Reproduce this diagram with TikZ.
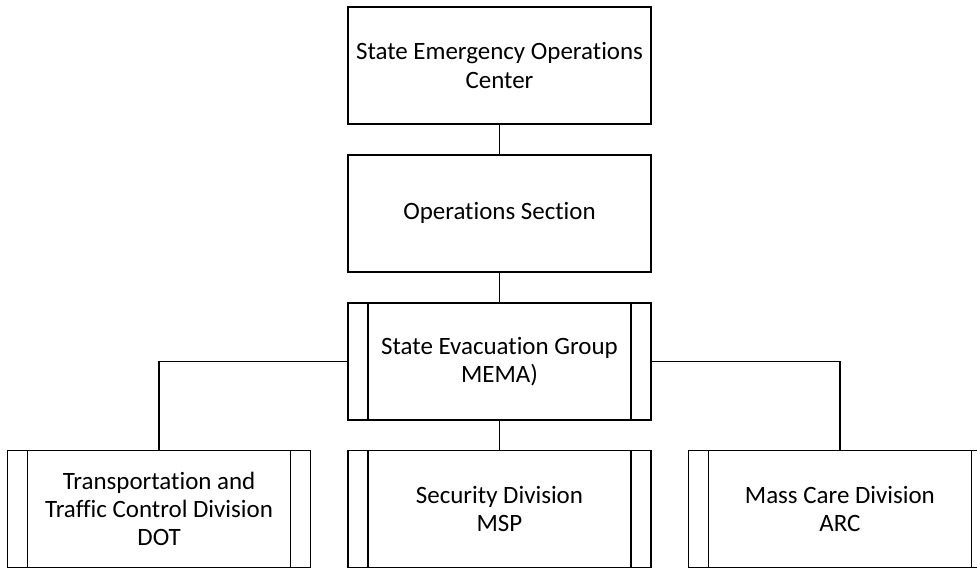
\documentclass[tikz,border=0pt]{standalone}
\usepackage{fontspec}
\setmainfont{Carlito}[Ligatures=NoCommon]
\usetikzlibrary{positioning}

\begin{document}
\begin{tikzpicture}[-,thick,node distance=0.59cm and 0.72cm,
    main node/.style={rectangle,draw,minimum width=6.06cm,minimum height=2.34cm,align=center,inner sep=0pt,font=\fontsize{14.2}{16}\selectfont},
    sub node/.style={main node,path picture={
        \draw ([xshift=0.4cm]path picture bounding box.north west) -- ([xshift=0.4cm]path picture bounding box.south west);
        \draw ([xshift=-0.4cm]path picture bounding box.north east) -- ([xshift=-0.4cm]path picture bounding box.south east);}}]

            \useasboundingbox (0,0) rectangle (19.54,-11.38);
            \clip (0,0) rectangle (19.54,-11.38);

            \node[main node] (1) at (9.99,-1.31) {State Emergency Operations\\Center};
            \node[main node] (2) [below = of 1] {Operations Section};
            \node[sub node] (3) [below = of 2] {State Evacuation Group\\MEMA)};
            \node[sub node] (5) [below = of 3] {Security Division\\MSP};
            \node[sub node] (4) [left = of 5] {Transportation and\\Traffic Control Division\\DOT};
            \node[sub node] (6) [right = of 5] {Mass Care Division\\ARC};

            \path
                (1) edge (2)
                (2) edge (3)
                (3) edge (5)
            ;
            \draw (3.west) -| (4.north);
            \draw (3.east) -| (6.north);
        \end{tikzpicture}
\end{document}
